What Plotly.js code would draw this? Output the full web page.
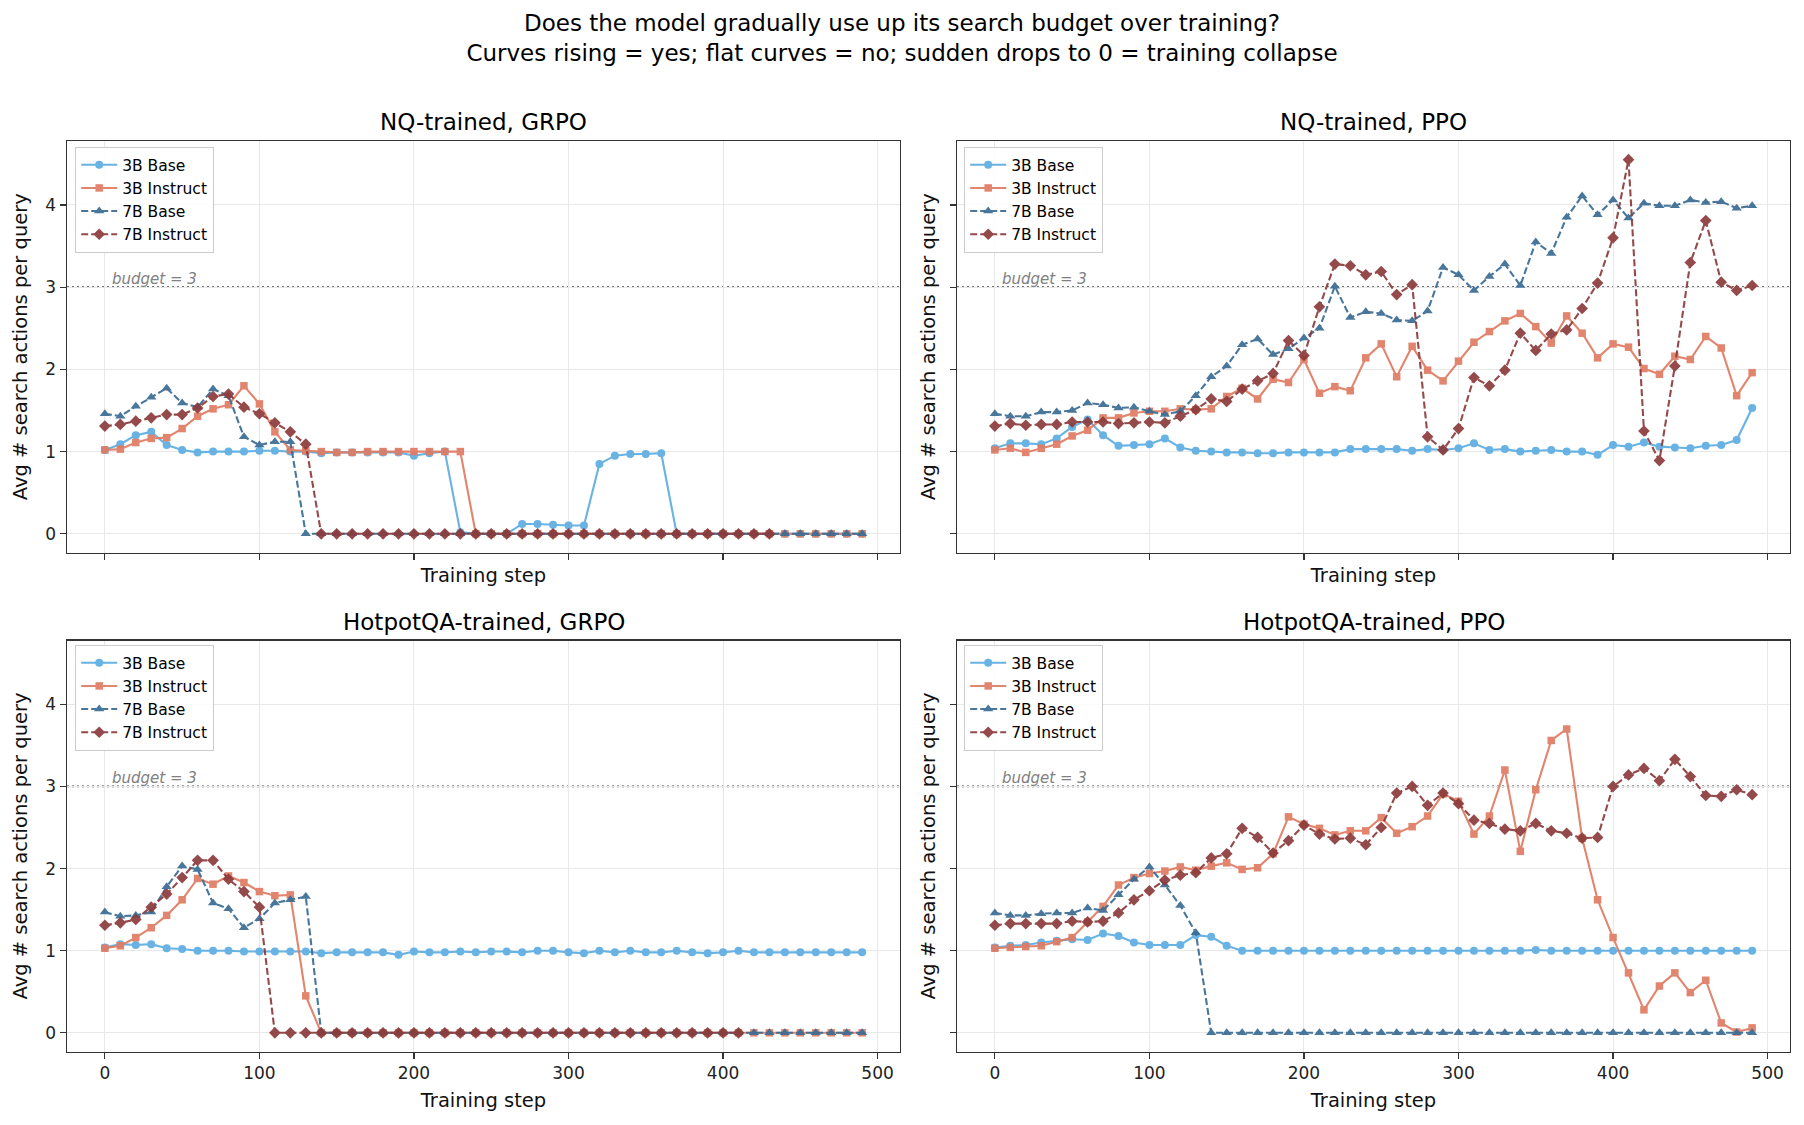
<!DOCTYPE html>
<html>
<head>
<meta charset="utf-8">
<script src="https://cdn.plot.ly/plotly-3.0.1.min.js"></script>
<style>html,body{margin:0;padding:0;background:#fff;}#chart{width:1804px;height:1125px;}</style>
</head>
<body>
<div id="chart"></div>
<script>
// ---- data ----
const steps = [0,10,20,30,40,50,60,70,80,90,100,110,120,130,140,150,160,170,180,190,200,210,220,230,240,250,260,270,280,290,300,310,320,330,340,350,360,370,380,390,400,410,420,430,440,450,460,470,480,490];
const seriesNames = ['3B Base', '3B Instruct', '7B Base', '7B Instruct'];
const panelTitles = ['NQ-trained, GRPO', 'NQ-trained, PPO', 'HotpotQA-trained, GRPO', 'HotpotQA-trained, PPO'];
const budget = 3;

// NQ-trained, GRPO
const nqGrpo3BBase = [1.02,1.09,1.20,1.24,1.08,1.02,0.99,1.00,1.00,1.00,1.01,1.01,1.00,1.00,0.98,0.99,0.99,0.99,0.99,0.99,0.95,0.98,1.00,0.02,0,0,0,0.12,0.12,0.11,0.10,0.10,0.85,0.95,0.97,0.97,0.98,0,0,0,0,0,0,0,0,0,0,0,0,0];
const nqGrpo3BInstruct = [1.02,1.03,1.11,1.16,1.17,1.28,1.43,1.52,1.57,1.80,1.58,1.24,1.02,1.01,1.00,0.99,0.99,1.00,1.00,1.00,1.00,1.00,1.00,1.00,0,0,0,0,0,0,0,0,0,0,0,0,0,0,0,0,0,0,0,0,0,0,0,0,0,0];
const nqGrpo7BBase = [1.46,1.43,1.55,1.66,1.77,1.59,1.54,1.76,1.68,1.18,1.08,1.12,1.12,0,0,0,0,0,0,0,0,0,0,0,0,0,0,0,0,0,0,0,0,0,0,0,0,0,0,0,0,0,0,0,0,0,0,0,0,0];
const nqGrpo7BInstruct = [1.31,1.33,1.37,1.41,1.45,1.45,1.53,1.67,1.70,1.54,1.46,1.35,1.24,1.09,0,0,0,0,0,0,0,0,0,0,0,0,0,0,0,0,0,0,0,0,0,0,0,0,0,0,0,0,0,0];

// NQ-trained, PPO
const nqPpo3BBase = [1.04,1.10,1.10,1.09,1.16,1.30,1.39,1.20,1.07,1.08,1.09,1.16,1.05,1.01,1.00,0.99,0.99,0.98,0.98,0.99,0.99,0.99,0.99,1.03,1.03,1.03,1.03,1.01,1.03,1.02,1.04,1.10,1.02,1.03,1.00,1.01,1.02,1.00,1.00,0.96,1.08,1.06,1.11,1.06,1.05,1.04,1.07,1.08,1.14,1.53];
const nqPpo3BInstruct = [1.02,1.04,0.99,1.04,1.09,1.19,1.26,1.41,1.41,1.47,1.49,1.49,1.52,1.51,1.52,1.67,1.77,1.64,1.88,1.84,2.12,1.71,1.79,1.74,2.14,2.31,1.91,2.28,1.99,1.86,2.10,2.33,2.46,2.59,2.68,2.52,2.32,2.65,2.44,2.14,2.31,2.27,2.01,1.94,2.16,2.12,2.40,2.26,1.68,1.96];
const nqPpo7BBase = [1.46,1.43,1.43,1.48,1.48,1.50,1.59,1.57,1.53,1.54,1.49,1.45,1.49,1.68,1.91,2.04,2.30,2.37,2.18,2.25,2.38,2.50,3.01,2.63,2.70,2.68,2.60,2.59,2.71,3.24,3.15,2.96,3.13,3.28,3.02,3.55,3.41,3.85,4.11,3.88,4.06,3.84,4.02,3.99,3.99,4.06,4.03,4.04,3.96,3.99];
const nqPpo7BInstruct = [1.31,1.34,1.32,1.33,1.33,1.36,1.36,1.36,1.34,1.35,1.36,1.35,1.43,1.51,1.64,1.61,1.76,1.86,1.95,2.35,2.17,2.76,3.28,3.26,3.15,3.19,2.91,3.03,1.18,1.02,1.28,1.90,1.80,1.99,2.44,2.23,2.43,2.48,2.74,3.05,3.60,4.55,1.25,0.89,2.04,3.30,3.81,3.06,2.96,3.02];

// HotpotQA-trained, GRPO
const hpGrpo3BBase = [1.04,1.08,1.07,1.08,1.03,1.02,1.00,1.00,1.00,0.99,0.99,0.99,0.99,0.99,0.97,0.98,0.98,0.98,0.98,0.95,0.99,0.98,0.98,0.99,0.98,0.99,0.99,0.98,1.00,1.00,0.98,0.97,1.00,0.98,1.00,0.98,0.98,1.00,0.98,0.97,0.98,1.00,0.98,0.98,0.98,0.98,0.98,0.98,0.98,0.98];
const hpGrpo3BInstruct = [1.03,1.06,1.16,1.28,1.43,1.62,1.88,1.81,1.91,1.83,1.72,1.67,1.68,0.45,0,0,0,0,0,0,0,0,0,0,0,0,0,0,0,0,0,0,0,0,0,0,0,0,0,0,0,0,0,0,0,0,0,0,0,0];
const hpGrpo7BBase = [1.47,1.42,1.43,1.47,1.78,2.03,1.99,1.58,1.51,1.28,1.39,1.58,1.62,1.66,0,0,0,0,0,0,0,0,0,0,0,0,0,0,0,0,0,0,0,0,0,0,0,0,0,0,0,0,0,0,0,0,0,0,0,0];
const hpGrpo7BInstruct = [1.31,1.34,1.38,1.53,1.69,1.89,2.10,2.10,1.87,1.72,1.53,0,0,0,0,0,0,0,0,0,0,0,0,0,0,0,0,0,0,0,0,0,0,0,0,0,0,0,0,0,0,0];

// HotpotQA-trained, PPO
const hpPpo3BBase = [1.04,1.06,1.07,1.10,1.12,1.14,1.13,1.21,1.18,1.10,1.07,1.07,1.07,1.19,1.17,1.06,1.00,1.00,1.00,1.00,1.00,1.00,1.00,1.00,1.00,1.00,1.00,1.00,1.00,1.00,1.00,1.00,1.00,1.00,1.00,1.01,1.00,1.00,1.00,1.00,1.00,1.00,1.00,1.00,1.00,1.00,1.00,1.00,1.00,1.00];
const hpPpo3BInstruct = [1.03,1.04,1.05,1.06,1.11,1.16,1.35,1.54,1.80,1.89,1.94,1.97,2.02,1.98,2.03,2.07,1.99,2.01,2.18,2.63,2.54,2.49,2.41,2.46,2.46,2.62,2.43,2.51,2.64,2.91,2.82,2.42,2.64,3.20,2.21,2.96,3.56,3.70,2.37,1.62,1.16,0.73,0.28,0.57,0.73,0.49,0.64,0.12,0.01,0.06];
const hpPpo7BBase = [1.46,1.43,1.43,1.45,1.46,1.46,1.52,1.49,1.68,1.87,2.02,1.80,1.55,1.22,0,0,0,0,0,0,0,0,0,0,0,0,0,0,0,0,0,0,0,0,0,0,0,0,0,0,0,0,0,0,0,0,0,0,0,0];
const hpPpo7BInstruct = [1.31,1.33,1.33,1.33,1.33,1.36,1.35,1.36,1.46,1.62,1.73,1.86,1.92,1.95,2.13,2.18,2.49,2.38,2.19,2.34,2.53,2.42,2.36,2.37,2.29,2.50,2.92,3.00,2.77,2.92,2.79,2.59,2.55,2.48,2.46,2.55,2.46,2.43,2.37,2.38,3.00,3.14,3.22,3.07,3.33,3.12,2.89,2.88,2.96,2.90];

// ---- styling ----
const panels = [
  [nqGrpo3BBase, nqGrpo3BInstruct, nqGrpo7BBase, nqGrpo7BInstruct],
  [nqPpo3BBase, nqPpo3BInstruct, nqPpo7BBase, nqPpo7BInstruct],
  [hpGrpo3BBase, hpGrpo3BInstruct, hpGrpo7BBase, hpGrpo7BInstruct],
  [hpPpo3BBase, hpPpo3BInstruct, hpPpo7BBase, hpPpo7BInstruct]
];
const colors = ['#5DADE2', '#E07B62', '#3A6B93', '#8C3B3B'];
const symbols = ['circle', 'square', 'triangle-up', 'diamond'];
const msizes = [8, 7.5, 9, 9];
const dashes = ['solid', 'solid', '7px,3px', '7px,3px'];

const W = 1804, H = 1125;
const xDomains = [[67/W, 900/W], [957/W, 1790/W]];
const yDomains = [[1 - 552.5/H, 1 - 141/H], [1 - 1051.5/H, 1 - 640.5/H]];
const legendNames = ['legend', 'legend2', 'legend3', 'legend4'];

const traces = [];
const layout = {
  width: W, height: H,
  margin: {l: 0, r: 0, t: 0, b: 0},
  paper_bgcolor: '#ffffff', plot_bgcolor: '#ffffff',
  font: {family: 'DejaVu Sans, sans-serif', color: '#000'},
  title: {
    text: 'Does the model gradually use up its search budget over training?<br>Curves rising = yes; flat curves = no; sudden drops to 0 = training collapse',
    x: 0.5, xanchor: 'center', xref: 'paper',
    y: 1 - 31/H, yanchor: 'middle', yref: 'container',
    font: {size: 23, color: '#000', family: 'DejaVu Sans, sans-serif'}
  },
  annotations: [], shapes: []
};

for (let p = 0; p < 4; p++) {
  const col = p % 2, row = Math.floor(p / 2);
  const ax = p === 0 ? '' : String(p + 1);
  const xa = 'x' + ax, ya = 'y' + ax;
  const lg = legendNames[p];

  for (let s = 0; s < 4; s++) {
    const vals = panels[p][s];
    traces.push({
      type: 'scatter', mode: 'lines+markers',
      x: steps.slice(0, vals.length), y: vals,
      name: seriesNames[s],
      xaxis: xa, yaxis: ya, legend: lg,
      opacity: 0.92,
      line: {color: colors[s], width: 2.1, dash: dashes[s]},
      marker: {color: colors[s], symbol: symbols[s], size: msizes[s], line: {width: 0}}
    });
  }

  layout['xaxis' + ax] = {
    domain: xDomains[col], anchor: ya,
    range: [-24.5, 514.5], tickvals: [0, 100, 200, 300, 400, 500],
    showticklabels: row === 1,
    ticks: 'outside', ticklen: 6, tickwidth: 1.2, tickcolor: '#333',
    tickfont: {size: 17, color: '#222'},
    showline: true, mirror: true, linecolor: '#333', linewidth: 1.4,
    showgrid: true, gridcolor: '#e8e8e8', gridwidth: 1, zeroline: false,
    title: {text: 'Training step', font: {size: 19.5, color: '#111'}, standoff: row === 1 ? 11 : 9}
  };
  layout['yaxis' + ax] = {
    domain: yDomains[row], anchor: xa,
    range: [-0.2275, 4.7775], tickvals: [0, 1, 2, 3, 4],
    showticklabels: col === 0,
    ticks: 'outside', ticklen: 6, tickwidth: 1.2, tickcolor: '#333',
    tickfont: {size: 17, color: '#222'},
    showline: true, mirror: true, linecolor: '#333', linewidth: 1.4,
    showgrid: true, gridcolor: '#e8e8e8', gridwidth: 1, zeroline: false,
    title: {text: 'Avg # search actions per query', font: {size: 19.5, color: '#111'}, standoff: col === 0 ? 12 : 8}
  };

  layout.shapes.push({
    type: 'line', xref: xa + ' domain', yref: ya,
    x0: 0, x1: 1, y0: budget, y1: budget, layer: 'below',
    line: {color: '#444444', width: 1.8, dash: '2px,3px'}
  });
  layout.annotations.push({
    xref: xa, yref: ya, x: 3, y: budget, xanchor: 'left', yanchor: 'bottom',
    text: '<i>budget = ' + budget + '</i>', showarrow: false,
    font: {size: 15, color: '#808080'}, yshift: -3
  });
  layout.annotations.push({
    xref: xa + ' domain', yref: ya + ' domain', x: 0.5, y: 1,
    xanchor: 'center', yanchor: 'bottom', yshift: 4,
    text: panelTitles[p], showarrow: false,
    font: {size: 23, color: '#000'}
  });

  layout[lg] = {
    x: (col === 0 ? 75 : 964) / W,
    y: 1 - (row === 0 ? 147 : 645) / H,
    xref: 'paper', yref: 'paper',
    xanchor: 'left', yanchor: 'top',
    bgcolor: 'rgba(255,255,255,0.85)', bordercolor: '#cccccc', borderwidth: 1.2,
    font: {size: 15.5, color: '#000'},
    tracegroupgap: 0, itemwidth: 36
  };
}

Plotly.newPlot('chart', traces, layout, {displayModeBar: false, staticPlot: true});
</script>
</body>
</html>
